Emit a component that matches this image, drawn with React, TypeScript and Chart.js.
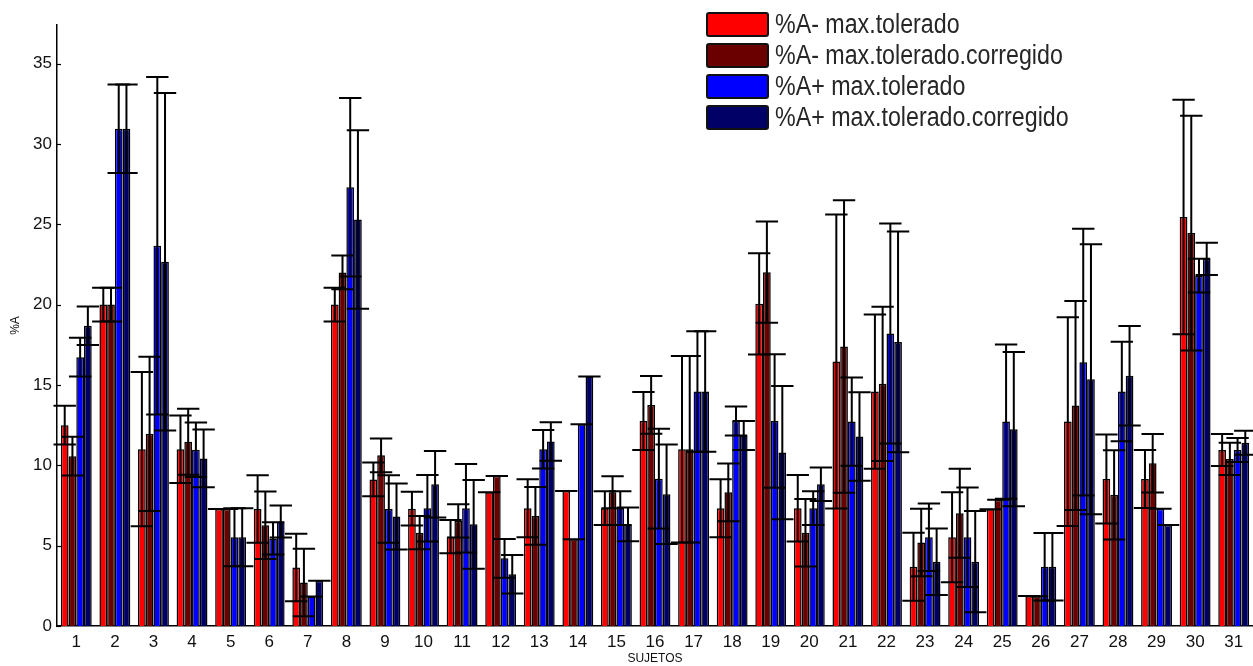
import React, { useEffect, useRef } from "react";
import { Chart, registerables } from "chart.js";

Chart.register(...registerables);

const categories = [
  "1", "2", "3", "4", "5", "6", "7", "8", "9", "10", "11", "12", "13", "14", "15", "16",
  "17", "18", "19", "20", "21", "22", "23", "24", "25", "26", "27", "28", "29", "30", "31",
];

const seriesNames = [
  "%A- max.tolerado",
  "%A- max.tolerado.corregido",
  "%A+ max.tolerado",
  "%A+ max.tolerado.corregido",
];

const seriesColors = ["#ff0000", "#6b0000", "#0000ff", "#000066"];

const aMinus = [
  12.5, 20.0, 11.0, 11.0, 7.28, 7.28, 3.64, 20.0, 9.12, 7.3, 5.56, 8.32, 7.33, 8.4, 7.33, 12.76,
  11.0, 7.33, 20.05, 7.33, 16.46, 14.59, 3.69, 5.52, 7.26, 1.87, 12.72, 9.15, 9.15, 25.45, 10.95,
];
const aMinusErr = [
  1.2, 1.05, 4.8, 2.1, 0, 2.1, 2.1, 1.05, 1.05, 1.05, 1.03, 0, 1.8, 0, 1.05, 1.8,
  5.8, 1.8, 3.15, 2.07, 9.15, 4.8, 2.12, 2.8, 0, 0, 6.5, 2.77, 1.8, 7.3, 1.0,
];

const aMinusCorr = [
  10.57, 20.0, 11.96, 11.47, 7.28, 6.27, 2.7, 22.0, 10.62, 5.81, 6.54, 9.34, 6.85, 5.4, 8.32, 13.76,
  11.0, 8.32, 22.02, 5.81, 17.39, 15.07, 5.19, 7.01, 7.85, 1.85, 13.72, 8.16, 10.13, 24.45, 10.4,
];
const aMinusCorrErr = [
  1.2, 1.05, 4.8, 2.05, 0, 2.1, 2.1, 1.05, 1.05, 1.04, 1.03, 0, 1.8, 0, 1.0, 1.8,
  5.8, 1.8, 3.15, 2.1, 9.1, 4.8, 2.1, 2.77, 0, 0, 6.5, 2.77, 1.82, 7.3, 1.0,
];

const aPlus = [
  16.73, 30.94, 23.66, 10.97, 5.52, 5.45, 1.83, 27.3, 7.28, 7.33, 7.33, 4.21, 11.0, 12.56, 7.33, 9.17,
  14.59, 12.76, 12.76, 7.33, 12.72, 18.2, 5.52, 5.52, 12.72, 3.69, 16.42, 14.59, 7.29, 21.8, 10.95,
];
const aPlusErr = [
  1.2, 2.75, 10.5, 1.7, 1.8, 1.0, 0, 5.55, 2.1, 2.07, 2.75, 1.2, 1.2, 0, 1.05, 3.1,
  3.75, 0.9, 4.15, 1.05, 2.75, 6.85, 2.1, 3.1, 4.8, 2.1, 8.3, 3.1, 0, 1.05, 0.75,
];

const aPlusCorr = [
  18.68, 30.94, 22.67, 10.43, 5.52, 6.5, 2.82, 25.3, 6.81, 8.82, 6.33, 3.22, 11.48, 15.52, 6.33, 8.2,
  14.59, 11.85, 10.79, 8.82, 11.79, 17.68, 4.0, 4.0, 12.25, 3.69, 15.36, 15.57, 6.29, 22.85, 11.4,
];
const aPlusCorrErr = [
  1.2, 2.75, 10.5, 1.8, 1.8, 1.0, 0, 5.55, 2.05, 2.07, 2.76, 1.2, 1.2, 0, 1.05, 3.1,
  3.75, 0.9, 4.15, 1.04, 2.75, 6.87, 2.07, 3.15, 4.8, 2.1, 8.4, 3.1, 0, 1.0, 0.75,
];

const yTicks = [0, 5, 10, 15, 20, 25, 30, 35];

const seriesValues = [aMinus, aMinusCorr, aPlus, aPlusCorr];
const seriesErrors = [aMinusErr, aMinusCorrErr, aPlusErr, aPlusCorrErr];

const FONT = '"Liberation Sans", Arial, Helvetica, sans-serif';

const errorBarPlugin = {
  id: "errorBars",
  afterDatasetsDraw(chart: any) {
    const ctx = chart.ctx;
    const yScale = chart.scales.y;
    const xScale = chart.scales.x;
    const capHalf = (xScale.getPixelForValue(1) - xScale.getPixelForValue(0)) * 0.29;
    ctx.save();
    ctx.strokeStyle = "#000";
    ctx.lineWidth = 2;
    ctx.lineCap = "butt";
    chart.data.datasets.forEach((ds: any, di: number) => {
      const meta = chart.getDatasetMeta(di);
      const errs = seriesErrors[di];
      meta.data.forEach((el: any, i: number) => {
        const v = ds.data[i];
        const e = errs[i];
        const x = el.x;
        const yTop = yScale.getPixelForValue(v + e);
        const yBot = yScale.getPixelForValue(v - e);
        ctx.beginPath();
        ctx.moveTo(x, yTop);
        ctx.lineTo(x, yBot);
        ctx.moveTo(x - capHalf, yTop);
        ctx.lineTo(x + capHalf, yTop);
        ctx.moveTo(x - capHalf, yBot);
        ctx.lineTo(x + capHalf, yBot);
        ctx.stroke();
      });
    });
    // inward y ticks
    const left = chart.chartArea.left;
    ctx.lineWidth = 1.2;
    yTicks.forEach((t) => {
      const py = Math.round(yScale.getPixelForValue(t)) + 0.5;
      ctx.beginPath();
      ctx.moveTo(left, py);
      ctx.lineTo(left + 4, py);
      ctx.stroke();
    });
    ctx.restore();
  },
};

const legendPlugin = {
  id: "customLegend",
  afterDraw(chart: any) {
    const ctx = chart.ctx;
    ctx.save();
    seriesNames.forEach((name, i) => {
      const cy = 24.5 + 31 * i;
      const sx = 707;
      const sw = 61;
      const sh = 23;
      ctx.fillStyle = seriesColors[i];
      ctx.beginPath();
      ctx.roundRect(sx, cy - sh / 2, sw, sh, 2);
      ctx.fill();
      ctx.lineWidth = 2;
      ctx.strokeStyle = "#111";
      ctx.stroke();
      ctx.save();
      ctx.translate(775, cy + 1);
      ctx.scale(0.86, 1);
      ctx.font = `27px ${FONT}`;
      ctx.textBaseline = "middle";
      ctx.textAlign = "left";
      ctx.fillStyle = "#262626";
      ctx.fillText(name, 0, 0);
      ctx.restore();
    });
    ctx.restore();
  },
};

export default function App() {
  const canvasRef = useRef<HTMLCanvasElement | null>(null);

  useEffect(() => {
    document.body.style.margin = "0";
    const canvas = canvasRef.current;
    if (!canvas) return;
    const chart = new Chart(canvas, {
      type: "bar",
      data: {
        labels: categories,
        datasets: seriesValues.map((vals, i) => ({
          label: seriesNames[i],
          data: vals,
          backgroundColor: seriesColors[i],
          borderColor: "#000",
          borderWidth: 1.5,
          categoryPercentage: 0.8,
          barPercentage: 1.0,
        })),
      },
      options: {
        animation: false,
        responsive: false,
        maintainAspectRatio: false,
        layout: { padding: { top: 25, left: 0, right: 0, bottom: 0 } },
        plugins: {
          legend: { display: false },
          tooltip: { enabled: false },
          title: { display: false },
        },
        scales: {
          x: {
            type: "category",
            offset: true,
            grid: { display: false, drawTicks: false },
            border: { display: true, color: "#000", width: 1.5 },
            ticks: {
              color: "#111",
              font: { family: FONT, size: 17 },
              padding: 6,
              maxRotation: 0,
              minRotation: 0,
              autoSkip: false,
            },
            title: {
              display: true,
              text: "SUJETOS",
              color: "#111",
              font: { family: FONT, size: 12 },
              padding: { top: 0, bottom: 0 },
            },
            afterFit: (s: any) => {
              s.height = 40;
            },
          },
          y: {
            min: 0,
            max: 37.4,
            grid: { display: false, drawTicks: false },
            border: { display: true, color: "#000", width: 1.5 },
            ticks: {
              stepSize: 5,
              includeBounds: false,
              color: "#111",
              font: { family: FONT, size: 17 },
              padding: 5,
            },
            title: {
              display: true,
              text: "%A",
              color: "#111",
              font: { family: FONT, size: 12 },
              padding: { top: 8, bottom: 0 },
            },
            afterFit: (s: any) => {
              s.width = 57;
            },
          },
        },
      },
      plugins: [errorBarPlugin, legendPlugin],
    });
    return () => {
      chart.destroy();
    };
  }, []);

  return (
    <div style={{ position: "fixed", left: 0, top: 0, width: 1253, height: 666, background: "#fff" }}>
      <canvas ref={canvasRef} width={1253} height={666} style={{ display: "block", width: 1253, height: 666 }} />
    </div>
  );
}
